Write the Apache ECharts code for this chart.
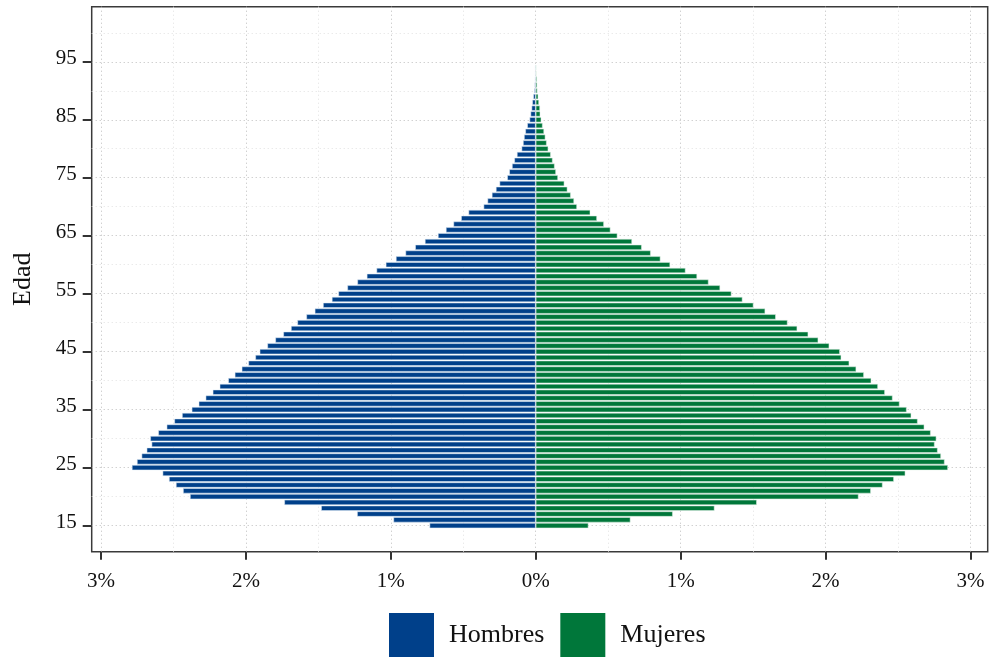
<!DOCTYPE html>
<html>
<head>
<meta charset="utf-8">
<script src="https://cdn.jsdelivr.net/npm/echarts@6/dist/echarts.min.js"></script>
<style>
  html, body { margin: 0; padding: 0; background: #fff; }
  #chart { width: 991px; height: 657px; }
</style>
</head>
<body>
<div id="chart"></div>
<script>
// edades 15..94
var ages = [];
for (var a = 15; a <= 94; a++) ages.push(String(a));

// % de la poblacion, hombres (se dibujan a la izquierda)
var hombres = [
  0.733, 0.982, 1.233, 1.481, 1.735, 2.386, 2.434, 2.483, 2.531, 2.575,
  2.787, 2.752, 2.720, 2.685, 2.651, 2.660, 2.605, 2.547, 2.494, 2.441,
  2.374, 2.326, 2.278, 2.229, 2.181, 2.122, 2.077, 2.029, 1.983, 1.935,
  1.905, 1.852, 1.797, 1.742, 1.689, 1.645, 1.583, 1.525, 1.468, 1.407,
  1.362, 1.300, 1.231, 1.166, 1.099, 1.035, 0.965, 0.899, 0.832, 0.765,
  0.675, 0.620, 0.568, 0.515, 0.464, 0.360, 0.333, 0.303, 0.275, 0.250,
  0.197, 0.183, 0.164, 0.148, 0.130, 0.098, 0.088, 0.081, 0.072, 0.059,
  0.043, 0.036, 0.029, 0.024, 0.017, 0.010, 0.008, 0.006, 0.004, 0.003
];

// % de la poblacion, mujeres
var mujeres = [
  0.364, 0.654, 0.946, 1.234, 1.526, 2.228, 2.313, 2.394, 2.472, 2.551,
  2.845, 2.822, 2.797, 2.774, 2.753, 2.765, 2.726, 2.682, 2.636, 2.592,
  2.560, 2.511, 2.463, 2.410, 2.362, 2.316, 2.265, 2.212, 2.164, 2.109,
  2.099, 2.026, 1.950, 1.881, 1.805, 1.738, 1.657, 1.584, 1.503, 1.427,
  1.351, 1.273, 1.193, 1.114, 1.034, 0.928, 0.861, 0.794, 0.732, 0.665,
  0.564, 0.516, 0.471, 0.423, 0.377, 0.285, 0.265, 0.242, 0.219, 0.198,
  0.154, 0.140, 0.131, 0.117, 0.104, 0.087, 0.076, 0.067, 0.058, 0.048,
  0.039, 0.032, 0.030, 0.023, 0.018, 0.012, 0.011, 0.009, 0.005, 0.003
];

var yTicks = [15, 25, 35, 45, 55, 65, 75, 85, 95];
var yMinor = [20, 30, 40, 50, 60, 70, 80, 90, 100];
var xTicks = [-3, -2, -1, 0, 1, 2, 3];
var xMinor = [-2.5, -1.5, -0.5, 0.5, 1.5, 2.5];

// eje de edades visible: 10.5 .. 104.5 (categorias 11..104)
var axisAges = [];
for (var b = 11; b <= 104; b++) axisAges.push(String(b));

var FONT = '"Liberation Serif", "DejaVu Serif", serif';
var AZUL = '#00408a';
var VERDE = '#00773a';

var chart = echarts.init(document.getElementById('chart'), null, { renderer: 'canvas' });

var option = {
  animation: false,
  backgroundColor: '#ffffff',
  grid: {
    left: 91.7,
    right: 3.3,
    top: 6.7,
    bottom: 105.3,
    containLabel: false,
    outerBoundsMode: 'none',
    show: true,
    borderColor: '#3a3a3a',
    borderWidth: 1.5,
    backgroundColor: 'transparent'
  },
  legend: {
    data: ['Hombres', 'Mujeres'],
    left: 389,
    top: 613,
    padding: 0,
    icon: 'rect',
    itemWidth: 45,
    itemHeight: 45,
    itemGap: 16,
    itemStyle: { borderWidth: 0 },
    textStyle: {
      fontFamily: FONT,
      fontSize: 26,
      color: '#111',
      padding: [13, 0, 0, 10]
    }
  },
  xAxis: [
    {
      type: 'value',
      min: -3.064,
      max: 3.119,
      position: 'bottom',
      axisLine: { show: false, onZero: false },
      axisTick: {
        show: true,
        customValues: xTicks,
        length: 8,
        lineStyle: { color: '#333', width: 2 }
      },
      axisLabel: {
        customValues: xTicks,
        margin: 19,
        fontFamily: FONT,
        fontSize: 21,
        color: '#111',
        formatter: function (v) { return Math.abs(Math.round(v)) + '%'; }
      },
      splitLine: {
        show: true,
        lineStyle: { color: '#bdbdbd', width: 1, type: [1, 3] }
      }
    },
    {
      type: 'value',
      min: -3.064,
      max: 3.119,
      position: 'bottom',
      axisLine: { show: false, onZero: false },
      axisTick: { show: false, customValues: xMinor },
      axisLabel: { show: false, customValues: xMinor },
      splitLine: {
        show: true,
        lineStyle: { color: '#e0e0e0', width: 1, type: [1, 3] }
      }
    }
  ],
  yAxis: [
    {
      type: 'category',
      data: axisAges,
      boundaryGap: true,
      show: false,
      axisLine: { onZero: false }
    },
    {
      type: 'value',
      min: 10.5,
      max: 104.5,
      position: 'left',
      name: 'Edad',
      nameLocation: 'middle',
      nameGap: 56,
      nameRotate: 90,
      nameTextStyle: { fontFamily: FONT, fontSize: 26, color: '#111' },
      axisLine: { show: false, onZero: false },
      axisTick: {
        show: true,
        customValues: yTicks,
        length: 9,
        lineStyle: { color: '#333', width: 2 }
      },
      axisLabel: {
        customValues: yTicks,
        margin: 15,
        fontFamily: FONT,
        fontSize: 21,
        color: '#111',
        verticalAlign: 'bottom',
        lineHeight: 7
      },
      splitLine: {
        show: true,
        lineStyle: { color: '#bdbdbd', width: 1, type: [1, 3] }
      }
    },
    {
      type: 'value',
      min: 10.5,
      max: 104.5,
      position: 'left',
      axisLine: { show: false, onZero: false },
      axisTick: { show: false, customValues: yMinor },
      axisLabel: { show: false, customValues: yMinor },
      splitLine: {
        show: true,
        lineStyle: { color: '#e0e0e0', width: 1, type: [1, 3] }
      }
    }
  ],
  series: [
    {
      name: 'Hombres',
      type: 'bar',
      stack: 'pir',
      xAxisIndex: 0,
      yAxisIndex: 0,
      barCategoryGap: '8%',
      itemStyle: { color: AZUL, borderColor: 'rgba(225,235,245,0.75)', borderWidth: 0.7 },
      data: hombres.map(function (v, i) { return [-v, ages[i]]; })
    },
    {
      name: 'Mujeres',
      type: 'bar',
      stack: 'pir',
      xAxisIndex: 0,
      yAxisIndex: 0,
      barCategoryGap: '8%',
      itemStyle: { color: VERDE, borderColor: 'rgba(225,240,230,0.75)', borderWidth: 0.7 },
      data: mujeres.map(function (v, i) { return [v, ages[i]]; })
    }
  ]
};

chart.setOption(option);
</script>
</body>
</html>
